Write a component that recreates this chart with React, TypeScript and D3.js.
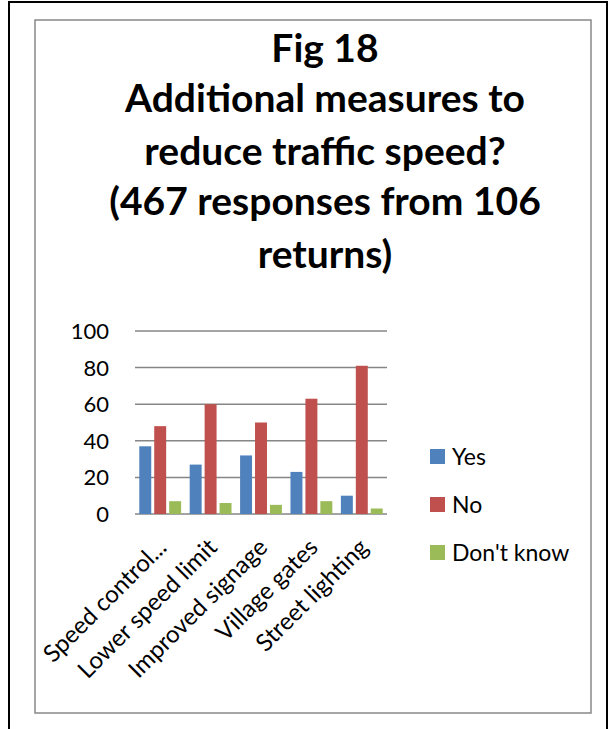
import React from "react";
import * as d3 from "d3";

const categories = ["Speed control...", "Lower speed limit", "Improved signage", "Village gates", "Street lighting"];
const seriesNames = ["Yes", "No", "Don't know"];
const yesValues = [37, 27, 32, 23, 10];
const noValues = [48, 60, 50, 63, 81];
const dkValues = [7, 6, 5, 7, 3];
const yTicks = [0, 20, 40, 60, 80, 100];
const titleLines = ["Fig 18", "Additional measures to", "reduce traffic speed?", "(467 responses from 106", "returns)"];
const colors = ["#4F81BD", "#C0504D", "#9BBB59"];

const FONT = "Lato, 'Open Sans', sans-serif";

export default function App() {
  const W = 613, H = 729;
  const plotLeft = 135, plotRight = 387, plotTop = 331, plotBottom = 514;
  const x0 = d3.scaleBand().domain(categories).range([plotLeft, plotRight]).paddingInner(0.17).paddingOuter(0.085);
  const x1 = d3.scaleBand().domain(seriesNames).range([0, x0.bandwidth()]).paddingInner(0.2);
  const y = d3.scaleLinear().domain([0, 100]).range([plotBottom, plotTop]);
  const series = [yesValues, noValues, dkValues];
  const titleBaselines = [62, 112, 165, 215, 268];

  return (
    <svg width={W} height={H} style={{ position: "absolute", left: 0, top: 0, background: "#fff" }}>
      <rect x={0} y={0} width={W} height={H} fill="#fff" />
      <path d={`M9,${H} V2 H607 V${H}`} fill="none" stroke="#000" strokeWidth={2} />
      <rect x={35} y={20} width={556} height={693} fill="none" stroke="#888" strokeWidth={1.5} />
      {titleLines.map((t, i) => (
        <text key={i} x={325} y={titleBaselines[i]} textAnchor="middle" fontFamily={FONT} fontWeight="bold" fontSize={39} fill="#000">
          {t}
        </text>
      ))}
      {yTicks.map((t) => (
        <g key={t}>
          <line x1={plotLeft} x2={plotRight} y1={y(t)} y2={y(t)} stroke="#868686" strokeWidth={1.5} />
          <text x={109} y={y(t)} dy="0.36em" textAnchor="end" fontFamily={FONT} fontSize={22} fill="#000">
            {t}
          </text>
        </g>
      ))}
      {categories.map((c, ci) => (
        <g key={c} transform={`translate(${x0(c)},0)`}>
          {series.map((vals, si) => (
            <rect
              key={si}
              x={x1(seriesNames[si])}
              y={y(vals[ci])}
              width={x1.bandwidth()}
              height={y(0) - y(vals[ci])}
              fill={colors[si]}
            />
          ))}
        </g>
      ))}
      {categories.map((c) => {
        const cx = (x0(c) as number) + x0.bandwidth() / 2 - 4;
        return (
          <text
            key={c}
            transform={`translate(${cx},${537}) rotate(-45)`}
            textAnchor="end"
            dy="0.7em"
            fontFamily={FONT}
            fontSize={24}
            fill="#000"
          >
            {c}
          </text>
        );
      })}
      {seriesNames.map((s, i) => (
        <g key={s} transform={`translate(430,${449 + i * 48})`}>
          <rect x={0} y={0} width={15} height={15} fill={colors[i]} />
          <text x={22} y={7.5} dy="0.36em" fontFamily={FONT} fontSize={23} fill="#000">
            {s}
          </text>
        </g>
      ))}
    </svg>
  );
}
